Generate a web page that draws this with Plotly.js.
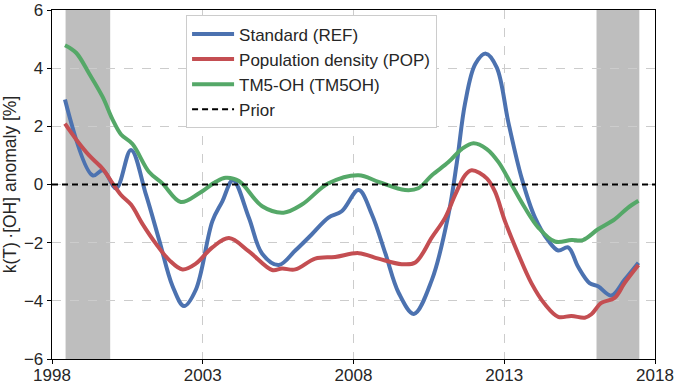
<!DOCTYPE html>
<html>
<head>
<meta charset="utf-8">
<script src="https://cdn.plot.ly/plotly-3.0.1.min.js"></script>
<style>html,body{margin:0;padding:0;background:#fff;}#chart{width:675px;height:385px;}</style>
</head>
<body>
<div id="chart"></div>
<script>
// Standard (REF)
const refYears = [1998.43,1999.35,1999.69,2000.13,2000.62,2001.12,2001.56,2002.0,2002.38,2002.77,2003.32,2003.65,2004.0,2004.53,2004.97,2005.52,2006.07,2006.62,2007.17,2007.61,2008.17,2008.61,2009.06,2009.5,2010.0,2010.6,2011.15,2011.43,2011.7,2012.04,2012.39,2012.75,2013.14,2013.58,2014.02,2014.46,2014.79,2015.12,2015.45,2015.83,2016.11,2016.55,2016.99,2017.45];
const refValues = [2.92,0.31,0.49,-0.13,1.19,-0.36,-1.93,-3.5,-4.18,-3.62,-1.26,-0.58,0.15,-1.14,-2.38,-2.77,-2.27,-1.71,-1.14,-0.92,-0.19,-1.03,-2.38,-3.73,-4.45,-3.28,-1.03,0.77,2.79,4.14,4.5,4.03,2.12,0.21,-1.14,-1.93,-2.27,-2.16,-2.83,-3.39,-3.5,-3.82,-3.28,-2.69];
// Population density (POP)
const popYears = [1998.43,1998.8,1999.24,1999.68,2000.01,2000.29,2000.62,2001.01,2001.45,2001.89,2002.33,2002.77,2003.32,2003.87,2004.53,2005.3,2005.63,2006.07,2006.73,2007.39,2008.17,2008.83,2009.6,2010.05,2010.6,2011.04,2011.37,2011.7,2011.92,2012.42,2012.69,2013.02,2013.46,2013.9,2014.35,2014.79,2015.23,2015.67,2015.89,2016.22,2016.66,2016.99,2017.45];
const popValues = [2.09,1.55,0.99,0.54,0.04,-0.36,-0.69,-1.37,-2.04,-2.6,-2.92,-2.72,-2.16,-1.84,-2.3,-2.94,-2.89,-2.92,-2.55,-2.49,-2.36,-2.55,-2.74,-2.68,-1.82,-1.14,-0.36,0.32,0.49,0.21,-0.24,-1.25,-2.38,-3.39,-4.12,-4.55,-4.52,-4.58,-4.46,-4.07,-3.9,-3.39,-2.77];
// TM5-OH (TM5OH)
const tm5Years = [1998.43,1998.8,1999.24,1999.68,2000.01,2000.29,2000.67,2001.22,2001.66,2002.27,2002.88,2003.43,2003.76,2004.2,2004.97,2005.68,2006.29,2007.17,2008.17,2008.83,2009.71,2010.15,2010.6,2011.15,2011.59,2011.98,2012.42,2012.81,2013.25,2013.69,2014.13,2014.68,2015.23,2015.61,2016.11,2016.66,2017.09,2017.45];
const tm5Values = [4.79,4.53,3.8,3.01,2.23,1.72,1.39,0.43,0.04,-0.6,-0.3,0.09,0.23,0.12,-0.75,-0.97,-0.69,0.04,0.32,0.09,-0.19,-0.13,0.32,0.77,1.22,1.42,1.22,0.77,-0.02,-0.81,-1.48,-1.96,-1.91,-1.91,-1.54,-1.2,-0.81,-0.56];
// Prior
const priorYears = [1998, 2018];
const priorValues = [0, 0];
// Shaded spin-up / spin-down periods
const shadeStart = [1998.45, 2016.06];
const shadeEnd = [1999.93, 2017.48];
// Ticks
const xTicks = [1998, 2003, 2008, 2013, 2018];
const yTicks = [-6, -4, -2, 0, 2, 4, 6];

const names = ['Standard (REF)', 'Population density (POP)', 'TM5-OH (TM5OH)', 'Prior'];
const colors = ['#4c72b0', '#c44e52', '#55a868', '#000000'];

const traces = [
  {x: refYears, y: refValues, name: names[0], mode: 'lines', line: {color: colors[0], width: 4, shape: 'spline', smoothing: 1}},
  {x: popYears, y: popValues, name: names[1], mode: 'lines', line: {color: colors[1], width: 4, shape: 'spline', smoothing: 1}},
  {x: tm5Years, y: tm5Values, name: names[2], mode: 'lines', line: {color: colors[2], width: 4, shape: 'spline', smoothing: 1}},
  {x: priorYears, y: priorValues, name: names[3], mode: 'lines', line: {color: colors[3], width: 2, dash: '6px,4px'}}
];

const shapes = shadeStart.map((s, i) => ({
  type: 'rect', xref: 'x', yref: 'paper', x0: s, x1: shadeEnd[i], y0: 0, y1: 1,
  fillcolor: '#bebebe', line: {width: 0}, layer: 'below'
}));

const font = {family: 'Liberation Sans, Arial, sans-serif', size: 17, color: '#262626'};
const titleFont = {family: 'Liberation Sans, Arial, sans-serif', size: 17.5, color: '#262626'};

const layout = {
  width: 675, height: 385,
  margin: {l: 52, r: 20, t: 10, b: 26, pad: 0},
  paper_bgcolor: '#ffffff', plot_bgcolor: '#ffffff',
  font: font,
  showlegend: true,
  legend: {x: 0.222, y: 0.985, xanchor: 'left', yanchor: 'top', bgcolor: '#ffffff', bordercolor: '#cccccc', borderwidth: 1.2, font: font, tracegroupgap: 0, itemwidth: 42},
  xaxis: {
    range: [1998, 2018], tickvals: xTicks, ticktext: xTicks.map(String),
    showline: true, mirror: true, linecolor: '#000', linewidth: 1.3,
    ticks: 'outside', ticklen: 4, tickcolor: '#000', tickwidth: 1,
    ticklabelstandoff: -4, ticklabeloverflow: 'allow',
    showgrid: true, gridcolor: '#cccccc', griddash: 'dash', gridwidth: 1,
    zeroline: false, tickfont: font
  },
  yaxis: {
    range: [-6, 6], tickvals: yTicks,
    showline: true, mirror: true, linecolor: '#000', linewidth: 1.3,
    ticks: 'outside', ticklen: 4, tickcolor: '#000', tickwidth: 1,
    ticklabeloverflow: 'allow',
    showgrid: true, gridcolor: '#cccccc', griddash: 'dash', gridwidth: 1,
    zeroline: false, tickfont: font,
    title: {text: 'k(T)\u2009\u00b7[OH] anomaly [%]', font: titleFont, standoff: 6}
  },
  shapes: shapes
};

Plotly.newPlot('chart', traces, layout, {displayModeBar: false, staticPlot: true});
</script>
</body>
</html>
